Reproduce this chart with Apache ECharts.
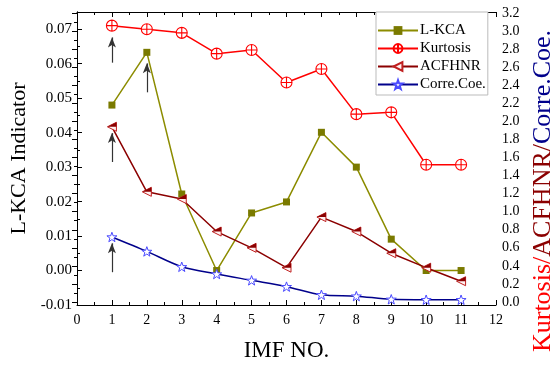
<!DOCTYPE html>
<html>
<head>
<meta charset="utf-8">
<script src="https://cdn.jsdelivr.net/npm/echarts@6/dist/echarts.min.js"></script>
<style>
  html, body { margin: 0; padding: 0; background: #fff; }
  #chart { width: 553px; height: 365px; }
</style>
</head>
<body>
<div id="chart"></div>
<script>
// IMF numbers
const imfNo = [1, 2, 3, 4, 5, 6, 7, 8, 9, 10, 11];
// left axis series
const lkca = [0.0480, 0.0633, 0.0222, 0.0000, 0.0167, 0.0199, 0.0401, 0.0300, 0.0091, 0.0000, 0.0000];
// right axis series
const kurtosis = [3.06, 3.02, 2.98, 2.75, 2.79, 2.43, 2.58, 2.08, 2.10, 1.52, 1.52];
const acfhnr = [1.94, 1.22, 1.14, 0.78, 0.60, 0.38, 0.94, 0.78, 0.54, 0.38, 0.23];
const correCoe = [0.72, 0.56, 0.39, 0.31, 0.24, 0.17, 0.08, 0.065, 0.03, 0.025, 0.025];
// arrows [imf, from, to]
const arrowLkca = [[2, 0.0517, 0.0601]];
const arrowKurt = [[1, 2.65, 2.93]];
const arrowAcf = [[1, 1.55, 1.87]];
const arrowCorre = [[1, 0.33, 0.65]];

const serif = 'Liberation Serif';
const pairs = ys => imfNo.map((x, i) => [x, ys[i]]);
const arrowLines = arr => ({
  silent: true,
  symbol: ['none', 'arrow'],
  symbolSize: [6, 10],
  label: { show: false },
  lineStyle: { color: '#333', width: 1.2, type: 'solid' },
  emphasis: { disabled: true },
  data: arr.map(a => [{ coord: [a[0], a[1]] }, { coord: [a[0], a[2]] }])
});

const circlePlus = 'path://M10,0 A10,10 0 1,1 10,20 A10,10 0 1,1 10,0 Z M0,10 L20,10 M10,0 L10,20';
const star = 'path://M0,-10 L2.35,-3.24 L9.51,-3.09 L3.80,1.24 L5.88,8.09 L0,4 L-5.88,8.09 L-3.80,1.24 L-9.51,-3.09 L-2.35,-3.24 Z';
const triLeft = 'path://M0,5 L10,0 L10,10 Z';
const triLeftTop = 'path://M0,5 L10,0 L10,5 Z';

let chart = echarts.init(document.getElementById('chart'));

const xBase = {
  type: 'value', min: 0, max: 12, interval: 1,
  axisLine: { show: true, onZero: false, lineStyle: { color: '#000', width: 1 } },
  axisTick: { show: true, inside: true, length: 5, lineStyle: { color: '#000' } },
  minorTick: { show: true, splitNumber: 2, length: 3, lineStyle: { color: '#000' } },
  splitLine: { show: false },
  axisLabel: { show: false }
};

let option = {
  animation: false,
  backgroundColor: '#fff',
  grid: [
    { left: 77, right: 57, top: 12, bottom: 60, containLabel: false, outerBoundsMode: 'none' },
    { left: 77, right: 57, top: 13, bottom: 63, containLabel: false, outerBoundsMode: 'none' }
  ],
  legend: {
    orient: 'vertical',
    left: 376,
    top: 12,
    padding: [11, 2, 3, 1],
    itemGap: 3,
    itemWidth: 40,
    itemHeight: 11,
    backgroundColor: '#fff',
    borderColor: '#bbb',
    borderWidth: 1,
    borderRadius: 0,
    textStyle: { fontFamily: serif, fontSize: 15, color: '#000', padding: [0, 0, 0, -3] },
    data: ['L-KCA', 'Kurtosis', 'ACFHNR', 'Corre.Coe.']
  },
  xAxis: [
    Object.assign({}, xBase, {
      gridIndex: 0, position: 'bottom',
      name: 'IMF NO.', nameLocation: 'middle', nameGap: 34,
      nameTextStyle: { fontFamily: serif, fontSize: 23, color: '#000' },
      axisLabel: { show: true, fontFamily: serif, fontSize: 14, color: '#000', margin: 8 }
    }),
    Object.assign({}, xBase, { gridIndex: 0, position: 'top' }),
    Object.assign({}, xBase, { gridIndex: 1, show: false })
  ],
  yAxis: [
    {
      type: 'value', gridIndex: 0, position: 'left',
      min: -0.01, max: 0.075, interval: 0.01,
      name: 'L-KCA Indicator', nameLocation: 'middle', nameGap: 44,
      nameTextStyle: { fontFamily: serif, fontSize: 22, color: '#000' },
      axisLine: { show: true, lineStyle: { color: '#000' } },
      axisTick: { show: true, inside: true, length: 5, lineStyle: { color: '#000' } },
      minorTick: { show: true, splitNumber: 2, length: 3, lineStyle: { color: '#000' } },
      splitLine: { show: false },
      axisLabel: {
        fontFamily: serif, fontSize: 15, color: '#000', margin: 5, showMaxLabel: false,
        formatter: v => v.toFixed(2)
      }
    },
    {
      type: 'value', gridIndex: 1, position: 'right',
      min: 0, max: 3.2, interval: 0.2,
      name: '{k|Kurtosis/}{a|ACFHNR/}{c|Corre.Coe.}', nameLocation: 'middle', nameGap: 32,
      nameRotate: 90,
      nameTextStyle: {
        fontFamily: serif, fontSize: 26, padding: [0, 67, 0, 0],
        rich: {
          k: { fontFamily: serif, fontSize: 26, color: '#ff0000' },
          a: { fontFamily: serif, fontSize: 26, color: '#8b0000' },
          c: { fontFamily: serif, fontSize: 26, color: '#00008b' }
        }
      },
      axisLine: { show: true, lineStyle: { color: '#000' } },
      axisTick: { show: true, inside: true, length: 5, lineStyle: { color: '#000' } },
      minorTick: { show: true, splitNumber: 2, length: 3, lineStyle: { color: '#000' } },
      splitLine: { show: false },
      axisLabel: {
        fontFamily: serif, fontSize: 14, color: '#000', margin: 6,
        formatter: v => v.toFixed(1)
      }
    },
    {
      type: 'value', gridIndex: 0, position: 'right',
      min: -0.01, max: 0.075,
      axisLine: { show: true, lineStyle: { color: '#000' } },
      axisTick: { show: false }, axisLabel: { show: false }, splitLine: { show: false }
    }
  ],
  series: [
    {
      name: 'L-KCA', type: 'line', xAxisIndex: 0, yAxisIndex: 0,
      data: pairs(lkca),
      symbol: 'rect', symbolSize: 7,
      lineStyle: { color: '#8c8c00', width: 1.5 },
      itemStyle: { color: '#7a7a00' },
      markLine: arrowLines(arrowLkca)
    },
    {
      name: 'Kurtosis', type: 'line', xAxisIndex: 2, yAxisIndex: 1,
      data: pairs(kurtosis),
      symbol: circlePlus, symbolSize: 11, symbolKeepAspect: true,
      lineStyle: { color: '#ff0000', width: 1.5 },
      itemStyle: { color: '#fff', borderColor: '#ff0000', borderWidth: 1.1 },
      markLine: arrowLines(arrowKurt)
    },
    {
      name: 'ACFHNR', type: 'line', xAxisIndex: 2, yAxisIndex: 1,
      data: pairs(acfhnr),
      symbol: triLeft, symbolSize: 9,
      lineStyle: { color: '#8b0000', width: 1.5 },
      itemStyle: { color: '#fff0f0', borderColor: '#c02020', borderWidth: 1 },
      markLine: arrowLines(arrowAcf)
    },
    {
      name: 'ACFHNR-fill', type: 'line', xAxisIndex: 2, yAxisIndex: 1,
      data: pairs(acfhnr),
      symbol: triLeftTop, symbolSize: [9, 4.5], symbolOffset: [0, -2.25],
      lineStyle: { width: 0, opacity: 0 },
      itemStyle: { color: '#8b0000', borderWidth: 0 },
      silent: true, tooltip: { show: false }
    },
    {
      name: 'Corre.Coe.', type: 'line', xAxisIndex: 2, yAxisIndex: 1,
      data: pairs(correCoe),
      smooth: 0.3,
      symbol: star, symbolSize: 10, symbolKeepAspect: true,
      lineStyle: { color: '#00008b', width: 1.5 },
      itemStyle: { color: '#fff', borderColor: '#4a4aff', borderWidth: 1 },
      markLine: arrowLines(arrowCorre)
    }
  ]
};

chart.setOption(option);
window.addEventListener('resize', function () {
  chart.resize();
});
</script>
</body>
</html>
